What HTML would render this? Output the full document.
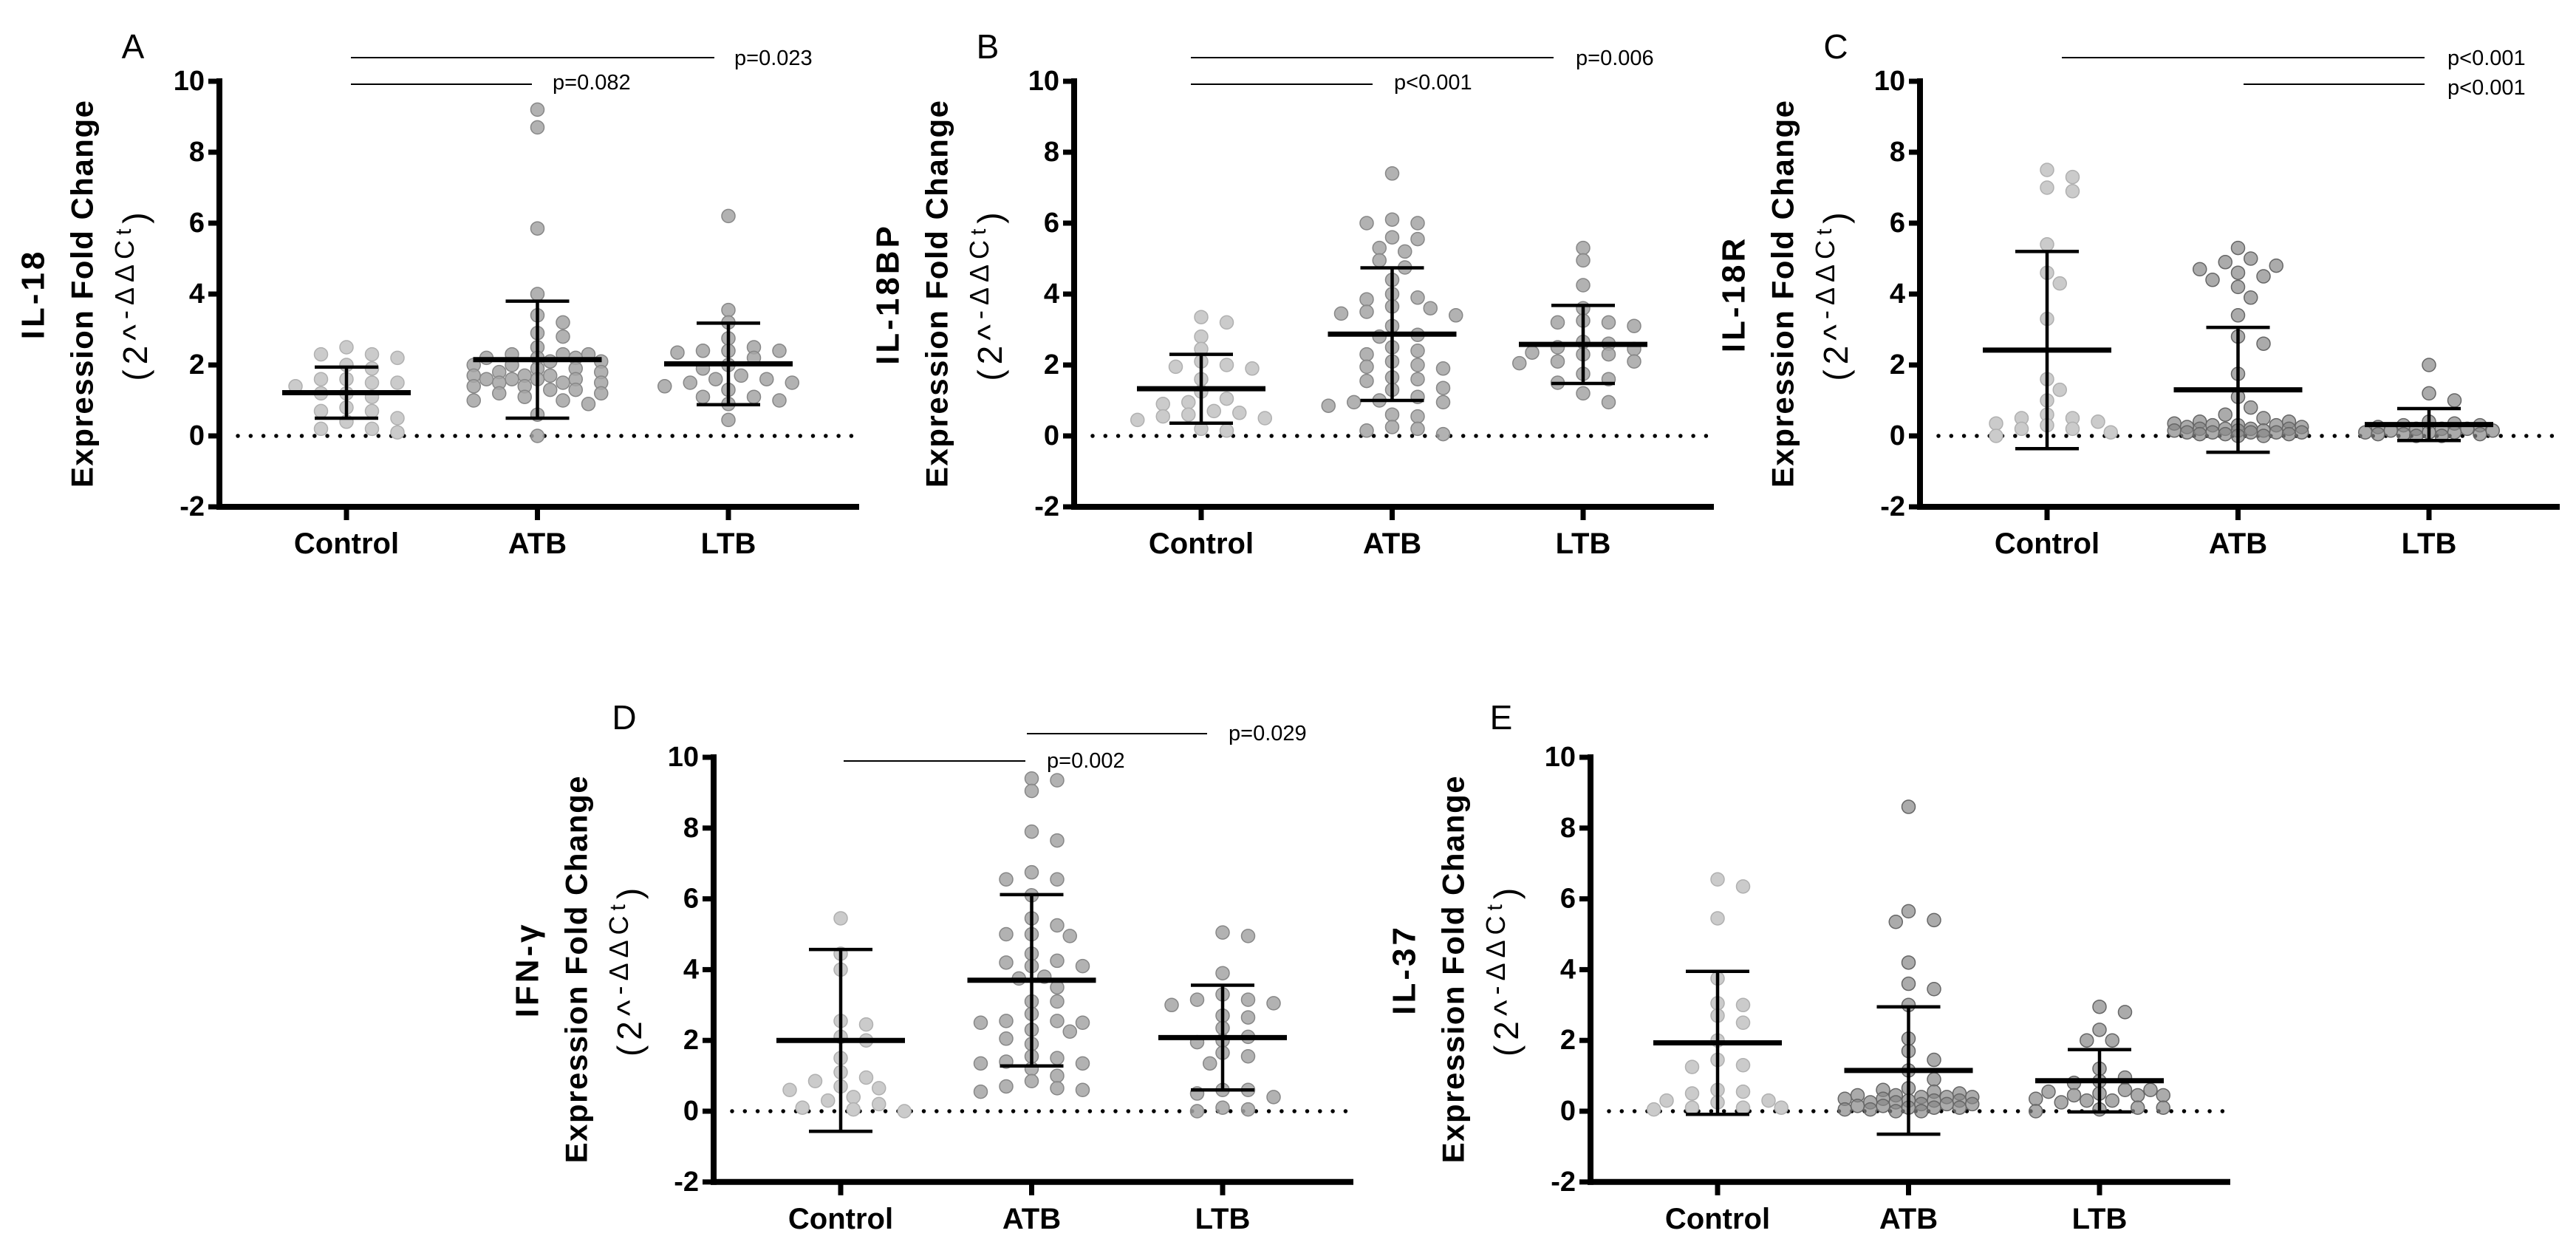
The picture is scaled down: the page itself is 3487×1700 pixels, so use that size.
<!DOCTYPE html>
<html><head><meta charset="utf-8"><title>Expression fold change panels</title>
<style>
html,body{margin:0;padding:0;background:#fff;}
svg{display:block;}
text{font-family:"Liberation Sans",sans-serif;}
</style></head>
<body>
<svg id="fig" width="3487" height="1700" viewBox="0 0 3487 1700" xmlns="http://www.w3.org/2000/svg"></svg>
<script>
// ---- data ----
const categories = ["Control", "ATB", "LTB"];
const yTicks = [-2, 0, 2, 4, 6, 8, 10];

const il18Control = [2.5,2.3,2.3,2.2,2.0,1.9,1.6,1.6,1.5,1.5,1.4,1.2,1.2,1.1,0.8,0.7,0.7,0.5,0.4,0.2,0.2,0.1];
const il18ATB = [9.2,8.7,5.85,4.0,3.4,3.2,2.9,2.8,2.5,2.3,2.3,2.3,2.2,2.2,2.2,2.1,2.1,2.0,2.0,1.9,1.9,1.8,1.8,1.7,1.7,1.7,1.6,1.6,1.6,1.6,1.5,1.5,1.5,1.4,1.4,1.3,1.3,1.2,1.2,1.1,1.0,1.0,0.9,0.6,0.0];
const il18LTB = [6.2,3.55,3.2,2.75,2.5,2.4,2.4,2.4,2.35,2.2,2.0,1.9,1.7,1.6,1.6,1.5,1.5,1.4,1.3,1.1,1.1,1.0,0.9,0.45];
const il18Means = [1.22, 2.15, 2.03];
const il18SD = [0.72, 1.65, 1.15];

const il18bpControl = [3.35,3.2,2.8,2.45,2.1,2.0,1.95,1.9,1.6,1.25,1.05,0.95,0.9,0.7,0.65,0.6,0.55,0.5,0.45,0.2,0.15];
const il18bpATB = [7.4,6.1,6.0,6.0,5.6,5.55,5.3,5.2,4.95,4.75,4.4,4.0,3.9,3.85,3.65,3.6,3.5,3.45,3.4,3.1,2.85,2.8,2.5,2.4,2.3,2.1,2.0,1.95,1.9,1.65,1.6,1.55,1.35,1.3,1.1,1.0,0.95,0.95,0.85,0.6,0.55,0.25,0.2,0.15,0.05];
const il18bpLTB = [5.3,4.95,4.25,3.6,3.25,3.2,3.2,3.1,2.65,2.6,2.5,2.45,2.35,2.3,2.3,2.1,2.1,2.05,1.75,1.6,1.5,1.2,0.95];
const il18bpMeans = [1.33, 2.87, 2.58];
const il18bpSD = [0.97, 1.87, 1.1];

const il18rControl = [7.5,7.3,7.0,6.9,5.4,4.6,4.3,3.3,1.6,1.3,1.0,0.6,0.5,0.5,0.4,0.35,0.3,0.2,0.2,0.1,0.0];
const il18rATB = [5.3,5.0,4.9,4.8,4.7,4.6,4.5,4.4,4.2,3.9,3.4,2.8,2.6,1.75,1.1,0.8,0.6,0.5,0.4,0.4,0.35,0.3,0.3,0.3,0.25,0.25,0.2,0.2,0.2,0.2,0.15,0.15,0.15,0.1,0.1,0.1,0.1,0.1,0.05,0.05,0.05,0.0,0.0];
const il18rLTB = [2.0,1.2,1.0,0.4,0.35,0.3,0.3,0.25,0.2,0.2,0.2,0.15,0.15,0.1,0.1,0.1,0.05,0.05,0.05,0.0,0.0];
const il18rMeans = [2.42, 1.3, 0.32];
const il18rSD = [2.78, 1.76, 0.45];

const ifngControl = [5.45,4.45,4.0,2.55,2.45,2.1,2.0,1.5,1.1,0.95,0.85,0.7,0.65,0.6,0.4,0.3,0.2,0.1,0.05,0.0];
const ifngATB = [9.4,9.35,9.05,7.9,7.65,6.75,6.55,6.55,6.1,5.45,5.25,5.0,5.0,4.95,4.45,4.25,4.2,4.1,4.1,3.8,3.75,3.5,3.1,3.1,2.75,2.55,2.55,2.5,2.5,2.3,2.25,2.05,1.9,1.55,1.5,1.4,1.35,1.35,1.2,1.0,0.85,0.7,0.65,0.6,0.55];
const ifngLTB = [5.05,4.95,3.9,3.3,3.15,3.15,3.05,3.0,2.7,2.65,2.35,2.1,2.0,1.95,1.65,1.55,1.35,0.6,0.6,0.5,0.4,0.1,0.05,0.0];
const ifngMeans = [2.0, 3.7, 2.08];
const ifngSD = [2.57, 2.42, 1.48];

const il37Control = [6.55,6.35,5.45,3.75,3.05,3.0,2.7,2.5,2.0,1.45,1.3,1.25,0.6,0.55,0.5,0.3,0.3,0.25,0.1,0.1,0.1,0.05];
const il37ATB = [8.6,5.65,5.4,5.35,4.2,3.6,3.45,3.0,2.05,1.7,1.45,1.15,0.9,0.65,0.6,0.55,0.5,0.45,0.45,0.4,0.4,0.4,0.35,0.35,0.3,0.3,0.3,0.25,0.25,0.2,0.2,0.2,0.15,0.15,0.1,0.1,0.1,0.05,0.05,0.0,0.0];
const il37LTB = [2.95,2.8,2.3,2.0,2.0,1.2,0.95,0.85,0.8,0.6,0.6,0.55,0.5,0.45,0.45,0.45,0.35,0.3,0.3,0.25,0.1,0.1,0.05,0.0];
const il37Means = [1.93, 1.15, 0.86];
const il37SD = [2.02, 1.8, 0.88];

// ---- layout ----
const NS = "http://www.w3.org/2000/svg";
const svg = document.getElementById("fig");
function mk(tag, attrs, parent) {
  const e = document.createElementNS(NS, tag);
  for (const k in attrs) e.setAttribute(k, attrs[k]);
  (parent || svg).appendChild(e);
  return e;
}

const panels = [
  {key:"a", letter:"A", gene:"IL-18", ax:297, y10:110, y0:590, lx:180, ly:63,
   groups:[il18Control, il18ATB, il18LTB], means:il18Means, sds:il18SD, dark:false,
   pvals:[{x1:475,x2:967,y:78,tx:994,ty:79,t:"p=0.023"},{x1:475,x2:720,y:114,tx:748,ty:112,t:"p=0.082"}]},
  {key:"b", letter:"B", gene:"IL-18BP", ax:1454, y10:110, y0:590, lx:1337, ly:63,
   groups:[il18bpControl, il18bpATB, il18bpLTB], means:il18bpMeans, sds:il18bpSD, dark:false,
   pvals:[{x1:1612,x2:2103,y:78,tx:2133,ty:79,t:"p=0.006"},{x1:1612,x2:1858,y:114,tx:1887,ty:112,t:"p<0.001"}]},
  {key:"c", letter:"C", gene:"IL-18R", ax:2599, y10:110, y0:590, lx:2485, ly:63,
   groups:[il18rControl, il18rATB, il18rLTB], means:il18rMeans, sds:il18rSD, dark:true,
   pvals:[{x1:2791,x2:3282,y:78,tx:3313,ty:79,t:"p<0.001"},{x1:3037,x2:3282,y:114,tx:3313,ty:119,t:"p<0.001"}]},
  {key:"d", letter:"D", gene:"IFN-γ", ax:966, y10:1025, y0:1504, lx:845, ly:971,
   groups:[ifngControl, ifngATB, ifngLTB], means:ifngMeans, sds:ifngSD, dark:false,
   pvals:[{x1:1390,x2:1634,y:993,tx:1663,ty:993,t:"p=0.029"},{x1:1142,x2:1388,y:1030,tx:1417,ty:1030,t:"p=0.002"}]},
  {key:"e", letter:"E", gene:"IL-37", ax:2153, y10:1025, y0:1504, lx:2032, ly:971,
   groups:[il37Control, il37ATB, il37LTB], means:il37Means, sds:il37SD, dark:true, pvals:[]}
];

// column-style beeswarm: points in similar rows spread into columns ~34px apart
function beeswarm(vals, yf) {
  const order = vals.map((v,i)=>i).sort((a,b)=>vals[b]-vals[a]);
  const placed = [];
  const off = new Array(vals.length).fill(0);
  const step = 17.25;
  const cands = [0];
  for (let k=1;k<=5;k++){ cands.push(k*step, -k*step); }
  const thr = 32*32;
  order.forEach(i=>{
    const y = yf(vals[i]);
    let chosen = null, best = 0, bestScore = -1;
    for (const c of cands) {
      let minD = Infinity;
      for (const p of placed) { const dx=p.x-c, dy=(p.y-y)*2; const d=dx*dx+dy*dy; if (d<minD) minD=d; }
      if (minD >= thr) { chosen = c; break; }
      if (minD > bestScore) { bestScore = minD; best = c; }
    }
    if (chosen === null) chosen = best;
    off[i]=chosen; placed.push({x:chosen,y:y});
  });
  return off;
}

panels.forEach(P=>{
  const g = mk("g",{});
  
  
  const unit = (P.y0 - P.y10)/10;
  const yScale = v => P.y0 - v*unit;
  const xScale = i => P.ax + 172 + i*258.5;
  const yBottom = yScale(-2);
  const axEnd = P.ax + 866;
  const yMid = (P.y10 + yBottom)/2;

  const L = mk("text",{x:P.lx, y:P.ly, "font-size":46, "text-anchor":"middle", "dominant-baseline":"central", fill:"#000"}, g);
  L.textContent = P.letter;
  
  

  const t1 = mk("text",{x:P.ax-252, y:yMid, "font-size":44, "font-weight":"bold", "text-anchor":"middle", "dominant-baseline":"central", "letter-spacing":"4", transform:`rotate(-90 ${P.ax-252} ${yMid})`}, g);
  t1.textContent = P.gene;
  
  
  const t2 = mk("text",{x:P.ax-186, y:yMid, "font-size":42, "font-weight":"bold", "text-anchor":"middle", "dominant-baseline":"central", textLength:524, lengthAdjust:"spacing", transform:`rotate(-90 ${P.ax-186} ${yMid})`}, g);
  t2.textContent = "Expression Fold Change";
  
  
  const fx = P.ax-108;
  const t3 = mk("text",{x:fx, y:yMid+10, "font-size":46, "text-anchor":"middle", "letter-spacing":"7", transform:`rotate(-90 ${fx} ${yMid})`}, g);
  
  
  const s1 = mk("tspan",{},t3); s1.textContent="(2^";
  const s2 = mk("tspan",{"font-size":36, dy:-18},t3); s2.textContent="-ΔΔC";
  const s3 = mk("tspan",{"font-size":30, dy:-4},t3); s3.textContent="t";
  const s4 = mk("tspan",{dy:22},t3); s4.textContent=")";

  const ya = mk("line",{x1:P.ax, y1:P.y10-4, x2:P.ax, y2:yBottom+4, stroke:"#000", "stroke-width":8}, g);
  
  
  const xa = mk("line",{x1:P.ax-4, y1:yBottom, x2:axEnd, y2:yBottom, stroke:"#000", "stroke-width":8}, g);
  
  

  yTicks.forEach(v=>{
    const y = yScale(v);
    mk("line",{x1:P.ax-15, y1:y, x2:P.ax, y2:y, stroke:"#000", "stroke-width":7}, g);
    const tl = mk("text",{x:P.ax-20, y:y, "font-size":38, "font-weight":"bold", "text-anchor":"end", "dominant-baseline":"central"}, g);
    tl.textContent = String(v);
    
    
  });

  categories.forEach((c,i)=>{
    const x = xScale(i);
    mk("line",{x1:x, y1:yBottom, x2:x, y2:yBottom+18, stroke:"#000", "stroke-width":7}, g);
    const cl = mk("text",{x:x, y:yBottom+50, "font-size":40, "font-weight":"bold", "text-anchor":"middle", "dominant-baseline":"central"}, g);
    cl.textContent = c;
    
    
  });

  const zl = mk("line",{x1:P.ax+25, y1:yScale(0), x2:axEnd-10, y2:yScale(0), stroke:"#000", "stroke-width":5.5, "stroke-linecap":"round", "stroke-dasharray":"0 17.3"}, g);
  
  

  P.groups.forEach((vals,i)=>{
    const off = beeswarm(vals, yScale);
    const cx0 = xScale(i);
    const light = i===0;
    const fill = light ? "#cbcbcb" : (P.dark ? "#888888" : "#a4a4a4");
    const stroke = light ? "#b0b0b0" : (P.dark ? "#666666" : "#878787");
    const op = light ? 1 : (P.dark ? 0.7 : 0.85);
    vals.forEach((v,j)=>{
      const c = mk("circle",{cx:cx0+off[j], cy:yScale(v), r:9, fill:fill, "fill-opacity":op, stroke:stroke, "stroke-width":1.5}, g);
      
      
    });
  });

  P.means.forEach((m,i)=>{
    const x = xScale(i);
    const sd = P.sds[i];
    const hi = yScale(m+sd), lo = yScale(m-sd);
    const vl = mk("line",{x1:x, y1:hi, x2:x, y2:lo, stroke:"#000", "stroke-width":4.5}, g);
    
    
    mk("line",{x1:x-43, y1:hi, x2:x+43, y2:hi, stroke:"#000", "stroke-width":4.5}, g);
    mk("line",{x1:x-43, y1:lo, x2:x+43, y2:lo, stroke:"#000", "stroke-width":4.5}, g);
    const ml = mk("line",{x1:x-87, y1:yScale(m), x2:x+87, y2:yScale(m), stroke:"#000", "stroke-width":7}, g);
    
    
  });

  P.pvals.forEach(p=>{
    const l = mk("line",{x1:p.x1, y1:p.y, x2:p.x2, y2:p.y, stroke:"#000", "stroke-width":2}, g);
    
    
    const t = mk("text",{x:p.tx, y:p.ty, "font-size":29, "dominant-baseline":"central"}, g);
    t.textContent = p.t;
    
    
  });
});
</script>
</body></html>
